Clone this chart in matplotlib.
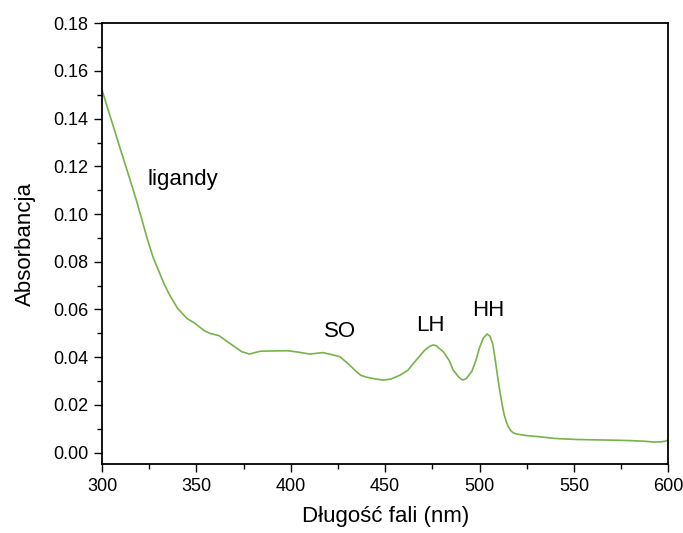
import numpy as np
import matplotlib
matplotlib.use('Agg')
import matplotlib.pyplot as plt
from matplotlib.ticker import MultipleLocator, FormatStrFormatter

plt.rcParams['font.family'] = ['Liberation Sans', 'DejaVu Sans']

# widmo absorpcji
wl = [300, 303, 306, 309, 312, 315, 318, 321, 324, 327, 330, 333, 336, 340, 345,
      349, 354, 357, 362, 368, 374, 378, 384, 390, 398, 404, 410, 417, 422, 426,
      431, 434, 437, 440, 445, 449, 453, 458, 462, 465, 468, 471, 474, 475.5, 477,
      481, 484, 486, 489, 491, 493, 496, 498, 500, 502, 504, 505.5, 507, 508, 509,
      510, 511, 512, 513, 514, 515, 516.5, 518, 520, 525, 532, 540, 550, 562, 570,
      580, 588, 592, 596, 598, 600]
absb = [0.152, 0.1443, 0.1367, 0.129, 0.1215, 0.114, 0.1063, 0.0980, 0.0895,
        0.0820, 0.0762, 0.0705, 0.0658, 0.0605, 0.0562, 0.0543, 0.0512, 0.0500,
        0.0490, 0.0456, 0.0423, 0.0413, 0.0425, 0.0426, 0.0427, 0.0421, 0.0413,
        0.0419, 0.0410, 0.0402, 0.0368, 0.0345, 0.0324, 0.0316, 0.0308, 0.0304,
        0.0308, 0.0325, 0.0345, 0.0374, 0.0402, 0.0430, 0.0447, 0.0451, 0.0448,
        0.0421, 0.0385, 0.0346, 0.0316, 0.0304, 0.0310, 0.0342, 0.0385, 0.0440,
        0.0480, 0.0497, 0.0488, 0.0455, 0.0405, 0.0350, 0.0295, 0.0245, 0.0200,
        0.0160, 0.0133, 0.0112, 0.0092, 0.0082, 0.0077, 0.0071, 0.0066, 0.0059,
        0.0055, 0.0053, 0.0052, 0.0050, 0.0047, 0.0044, 0.0045, 0.0047, 0.0052]

labels = ['ligandy', 'SO', 'LH', 'HH']
label_x = [324, 426, 474, 504.5]
label_y = [0.1143, 0.0506, 0.0534, 0.0594]

fig = plt.figure(figsize=(6.83, 5.33), dpi=100)
ax = fig.add_axes([0.1494, 0.1295, 0.8291, 0.8268])

ax.plot(wl, absb, color='#77b347', linewidth=1.2)

for i in range(len(labels)):
	ha = 'left' if i == 0 else 'center'
	ax.text(label_x[i], label_y[i], labels[i], fontsize=16, ha=ha, va='center')

ax.set_xlim(300, 600)
ax.set_ylim(-0.0048, 0.18)
ax.xaxis.set_major_locator(MultipleLocator(50))
ax.xaxis.set_minor_locator(MultipleLocator(25))
ax.yaxis.set_major_locator(MultipleLocator(0.02))
ax.yaxis.set_minor_locator(MultipleLocator(0.01))
ax.yaxis.set_major_formatter(FormatStrFormatter('%.2f'))
ax.tick_params(which='major', direction='out', length=5.5, width=1.0, labelsize=13, pad=4.5)
ax.tick_params(which='minor', direction='out', length=3.5, width=1.0)
for s in ax.spines.values():
	s.set_linewidth(1.3)

ax.set_xlabel('Długość fali (nm)', fontsize=16, labelpad=8)
ax.set_ylabel('Absorbancja', fontsize=16, labelpad=12)

fig.savefig('out.png', dpi=100)
